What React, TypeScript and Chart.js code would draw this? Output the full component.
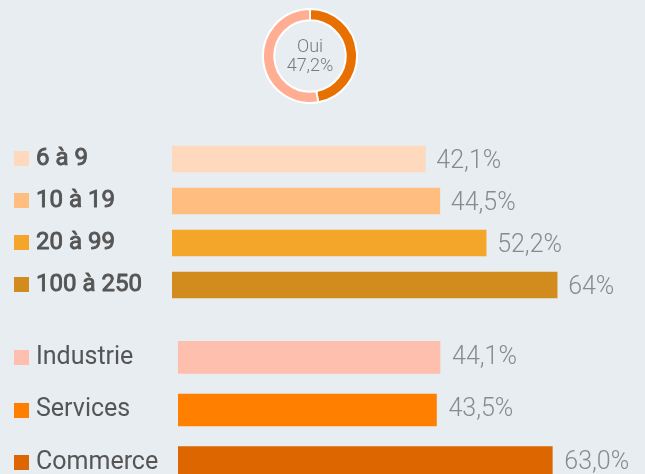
import React, { useEffect, useRef } from "react";
import { Chart, registerables } from "chart.js";

Chart.register(...registerables);

const BG = "#e8edf1";

const donutLabels = ["Oui", "Non"];
const donutValues = [47.2, 52.8];
const donutColors = ["#e87000", "#ffae94"];
const donutCenterTitle = "Oui";
const donutCenterValue = "47,2%";

const sizeLabels = ["6 à 9", "10 à 19", "20 à 99", "100 à 250"];
const sizeValues = [42.1, 44.5, 52.2, 64];
const sizeValueLabels = ["42,1%", "44,5%", "52,2%", "64%"];
const sizeColors = ["#ffd9bd", "#ffbe80", "#f4a62a", "#d18c1d"];

const sectorLabels = ["Industrie", "Services", "Commerce"];
const sectorValues = [44.1, 43.5, 63.0];
const sectorValueLabels = ["44,1%", "43,5%", "63,0%"];
const sectorColors = ["#ffbfae", "#ff7f00", "#dd6600"];

const barLabelPlugin = {
  id: "barLabels",
  afterDatasetsDraw(chart: any, _args: any, opts: any) {
    const ctx = chart.ctx;
    const meta = chart.getDatasetMeta(0);
    ctx.save();
    meta.data.forEach((bar: any, i: number) => {
      const y = bar.y;
      ctx.fillStyle = opts.colors[i];
      ctx.fillRect(14, Math.round(y - 7.5 + opts.squareDy), 15, 15);
      ctx.fillStyle = "#555555";
      ctx.strokeStyle = "#555555";
      ctx.font = opts.labelFont;
      ctx.textBaseline = "middle";
      ctx.textAlign = "left";
      ctx.fillText(opts.labels[i], 36, y + opts.labelDy);
      if (opts.labelStroke > 0) {
        ctx.lineWidth = opts.labelStroke;
        ctx.lineJoin = "round";
        ctx.strokeText(opts.labels[i], 36, y + opts.labelDy);
      }
      ctx.fillStyle = "#8a8a8a";
      ctx.font = opts.valueFont;
      ctx.fillText(opts.valueLabels[i], bar.x + opts.valueGap, y + opts.valueDy);
    });
    ctx.restore();
  },
};

const donutCenterPlugin = {
  id: "donutCenter",
  afterDatasetsDraw(chart: any) {
    const ctx = chart.ctx;
    const arc = chart.getDatasetMeta(0).data[0];
    if (!arc) return;
    ctx.save();
    ctx.fillStyle = "#7a7a7a";
    ctx.textAlign = "center";
    ctx.textBaseline = "middle";
    ctx.font = "300 18px Roboto";
    ctx.fillText(donutCenterTitle, arc.x, arc.y - 9);
    ctx.fillText(donutCenterValue, arc.x, arc.y + 10);
    ctx.restore();
  },
};

function makeBarChart(
  canvas: HTMLCanvasElement,
  labels: string[],
  values: number[],
  colors: string[],
  valueLabels: string[],
  left: number,
  thickness: number,
  labelFont: string,
  extra: any
) {
  return new Chart(canvas, {
    type: "bar",
    data: {
      labels,
      datasets: [
        {
          data: values,
          backgroundColor: colors,
          barThickness: thickness,
          borderWidth: 0,
        },
      ],
    },
    options: {
      indexAxis: "y",
      responsive: false,
      animation: false,
      layout: { padding: { left, right: 0, top: 0, bottom: 0 } },
      scales: {
        x: { display: false, min: 0, max: 78.6 },
        y: { display: false },
      },
      plugins: {
        legend: { display: false },
        tooltip: { enabled: false },
        barLabels: {
          labels,
          colors,
          valueLabels,
          labelFont,
          valueFont: "300 25px Roboto",
          ...extra,
        },
      } as any,
    },
    plugins: [barLabelPlugin],
  } as any);
}

export default function App() {
  const donutRef = useRef<HTMLCanvasElement>(null);
  const sizeRef = useRef<HTMLCanvasElement>(null);
  const sectorRef = useRef<HTMLCanvasElement>(null);

  useEffect(() => {
    document.body.style.margin = "0";
    document.body.style.background = BG;
    document.body.style.overflow = "hidden";

    const donut = new Chart(donutRef.current!, {
      type: "doughnut",
      data: {
        labels: donutLabels,
        datasets: [
          {
            data: donutValues,
            backgroundColor: donutColors,
            borderColor: "#ffffff",
            borderWidth: 2,
          },
        ],
      },
      options: {
        responsive: false,
        animation: false,
        cutout: "76%",
        plugins: { legend: { display: false }, tooltip: { enabled: false } },
      },
      plugins: [donutCenterPlugin],
    } as any);

    const sizes = makeBarChart(
      sizeRef.current!,
      sizeLabels,
      sizeValues,
      sizeColors,
      sizeValueLabels,
      172,
      26,
      "24px Roboto",
      { squareDy: -1, labelDy: 0, valueDy: 3, valueGap: 11, labelStroke: 0.9 }
    );

    const sectors = makeBarChart(
      sectorRef.current!,
      sectorLabels,
      sectorValues,
      sectorColors,
      sectorValueLabels,
      178,
      32,
      "25px Roboto",
      { squareDy: 0, labelDy: 0, valueDy: 0, valueGap: 12, labelStroke: 0 }
    );

    return () => {
      donut.destroy();
      sizes.destroy();
      sectors.destroy();
    };
  }, []);

  return (
    <div
      style={{
        position: "relative",
        width: 645,
        height: 474,
        background: BG,
        overflow: "hidden",
      }}
    >
      <canvas
        ref={donutRef}
        width={96}
        height={96}
        style={{ position: "absolute", left: 262, top: 8 }}
      />
      <canvas
        ref={sizeRef}
        width={645}
        height={168}
        style={{ position: "absolute", left: 0, top: 138 }}
      />
      <canvas
        ref={sectorRef}
        width={645}
        height={158}
        style={{ position: "absolute", left: 0, top: 331 }}
      />
    </div>
  );
}
